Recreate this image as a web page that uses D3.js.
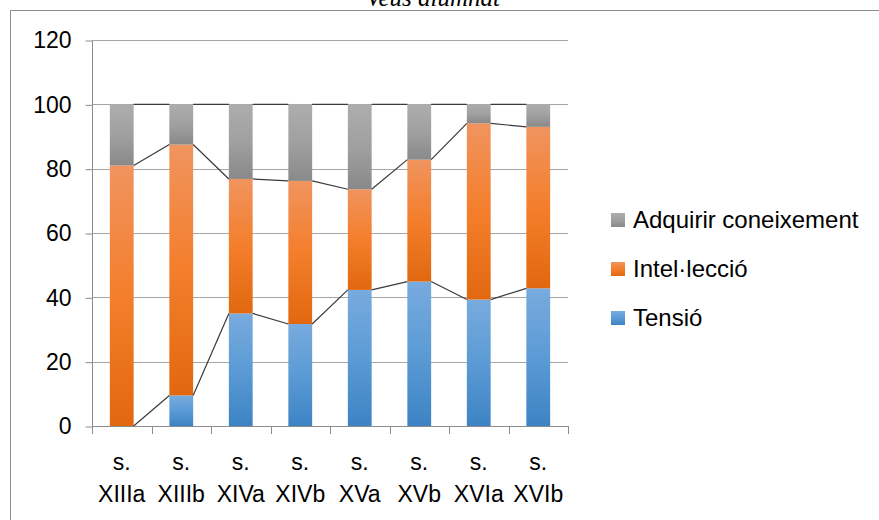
<!DOCTYPE html>
<html>
<head>
<meta charset="utf-8">
<script src="https://d3js.org/d3.v7.min.js"></script>
<style>
  body { margin: 0; background: #fff; }
  text { font-family: "Liberation Sans", Arial, sans-serif; fill: #000; }
</style>
</head>
<body>
<div id="chart"></div>
<script>
// chart data
var categories = ["s. XIIIa", "s. XIIIb", "s. XIVa", "s. XIVb", "s. XVa", "s. XVb", "s. XVIa", "s. XVIb"];
var tensio = [0, 9.5, 35, 31.7, 42.3, 44.9, 39.3, 42.8];
var intelleccio = [81, 78, 41.8, 44.5, 31.3, 37.9, 54.8, 50.2];
var adquirir = [19, 12.5, 23.2, 23.8, 26.4, 17.2, 5.9, 7.0];
var seriesNames = ["Tensió", "Intel·lecció", "Adquirir coneixement"];
var yTicks = [0, 20, 40, 60, 80, 100, 120];

var svgWidth = 879;
var svgHeight = 520;

var svg = d3.select("#chart")
  .append("svg")
  .attr("width", svgWidth)
  .attr("height", svgHeight);

// gradients like the office chart style
var defs = svg.append("defs");
var gradColors = {
  "Tensió": ["#78abde", "#5b9bd5", "#3d83c4"],
  "Intel·lecció": ["#f0945f", "#f47e2b", "#e1680f"],
  "Adquirir coneixement": ["#adadad", "#a0a0a0", "#898989"]
};
seriesNames.forEach(function(name, i) {
  var g = defs.append("linearGradient")
    .attr("id", "grad" + i)
    .attr("x1", 0).attr("y1", 0)
    .attr("x2", 0).attr("y2", 1);
  g.append("stop").attr("offset", "0%").attr("stop-color", gradColors[name][0]);
  g.append("stop").attr("offset", "50%").attr("stop-color", gradColors[name][1]);
  g.append("stop").attr("offset", "100%").attr("stop-color", gradColors[name][2]);
});

// frame + title (cut at the top edge, as in the original screenshot)
svg.append("text")
  .attr("x", 433)
  .attr("y", 6)
  .attr("text-anchor", "middle")
  .style("font-family", "'Liberation Serif', serif")
  .style("font-style", "italic")
  .style("font-size", "25px")
  .text("Veus alumnat");

svg.append("path")
  .attr("d", "M10.5," + svgHeight + "V10.5H" + svgWidth)
  .attr("fill", "none")
  .attr("stroke", "#8c8c8c")
  .attr("stroke-width", 1);

// scales
var xScale = d3.scaleBand()
  .domain(categories)
  .range([92, 568])
  .paddingInner(0.6)
  .paddingOuter(0.3);

var yScale = d3.scaleLinear()
  .domain([0, 120])
  .range([426, 40]);

// gridlines
svg.append("g")
  .selectAll("line")
  .data(yTicks)
  .enter()
  .append("line")
  .attr("x1", 92)
  .attr("x2", 568)
  .attr("y1", d => Math.round(yScale(d)) + 0.5)
  .attr("y2", d => Math.round(yScale(d)) + 0.5)
  .attr("stroke", "#a6a6a6")
  .attr("stroke-width", 1);

// stacked data
var table = categories.map(function(c, i) {
  return { cat: c, "Tensió": tensio[i], "Intel·lecció": intelleccio[i], "Adquirir coneixement": adquirir[i] };
});
var stacked = d3.stack().keys(seriesNames)(table);

var layers = svg.append("g")
  .selectAll("g")
  .data(stacked)
  .enter()
  .append("g")
  .attr("fill", (d, i) => "url(#grad" + i + ")");

layers.selectAll("rect")
  .data(d => d)
  .enter()
  .append("rect")
  .attr("x", d => xScale(d.data.cat))
  .attr("width", xScale.bandwidth())
  .attr("y", d => yScale(d[1]))
  .attr("height", d => yScale(d[0]) - yScale(d[1]));

// series lines between the bars
var seriesLine = svg.append("g")
  .attr("fill", "none")
  .attr("stroke", "#3a3a3a")
  .attr("stroke-width", 1.2);

stacked.forEach(function(layer) {
  for (var i = 0; i < layer.length - 1; i++) {
    seriesLine.append("line")
      .attr("x1", xScale(categories[i]) + xScale.bandwidth())
      .attr("y1", yScale(layer[i][1]))
      .attr("x2", xScale(categories[i + 1]))
      .attr("y2", yScale(layer[i + 1][1]));
  }
});

// y axis
var leftAxis = d3.axisLeft(yScale)
  .tickValues(yTicks)
  .tickSize(7)
  .tickPadding(14);

var yAxis = svg.append("g")
  .attr("transform", "translate(92.5,0.5)")
  .call(leftAxis);
yAxis.select(".domain").attr("stroke", "#8c8c8c").attr("d", "M0," + yScale(0) + "V" + yScale(120));
yAxis.selectAll(".tick line").attr("stroke", "#8c8c8c");
yAxis.selectAll(".tick text")
  .style("font-size", "23px")
  .style("font-family", "'Liberation Sans', Arial, sans-serif")
  .attr("fill", "#000");

// x axis line + boundary ticks
var xAxisG = svg.append("g")
  .attr("stroke", "#8c8c8c")
  .attr("stroke-width", 1);
xAxisG.append("line")
  .attr("x1", 92).attr("x2", 568)
  .attr("y1", Math.round(yScale(0)) + 0.5)
  .attr("y2", Math.round(yScale(0)) + 0.5);
var bounds = categories.map(c => xScale(c) - xScale.step() * 0.3).concat([568]);
xAxisG.selectAll(".xt")
  .data(bounds)
  .enter()
  .append("line")
  .attr("x1", d => Math.round(d) + 0.5)
  .attr("x2", d => Math.round(d) + 0.5)
  .attr("y1", yScale(0))
  .attr("y2", yScale(0) + 8);

// x labels on two lines
var xLabels = svg.append("g")
  .selectAll("text")
  .data(categories)
  .enter()
  .append("text")
  .attr("text-anchor", "middle")
  .style("font-size", "23px")
  .attr("transform", d => "translate(" + (xScale(d) + xScale.bandwidth() / 2) + ",0)");
xLabels.append("tspan")
  .attr("x", 0)
  .attr("y", 470)
  .text(d => d.split(" ")[0]);
xLabels.append("tspan")
  .attr("x", 0)
  .attr("y", 502)
  .text(d => d.split(" ")[1]);

// legend
var legendOrder = seriesNames.slice().reverse();
var legend = svg.append("g")
  .selectAll("g")
  .data(legendOrder)
  .enter()
  .append("g")
  .attr("transform", (d, i) => "translate(611," + (213 + i * 49) + ")");
legend.append("rect")
  .attr("width", 14)
  .attr("height", 14)
  .attr("fill", d => "url(#grad" + seriesNames.indexOf(d) + ")");
legend.append("text")
  .attr("x", 22)
  .attr("y", 15)
  .style("font-size", "24px")
  .text(d => d);
</script>
</body>
</html>
